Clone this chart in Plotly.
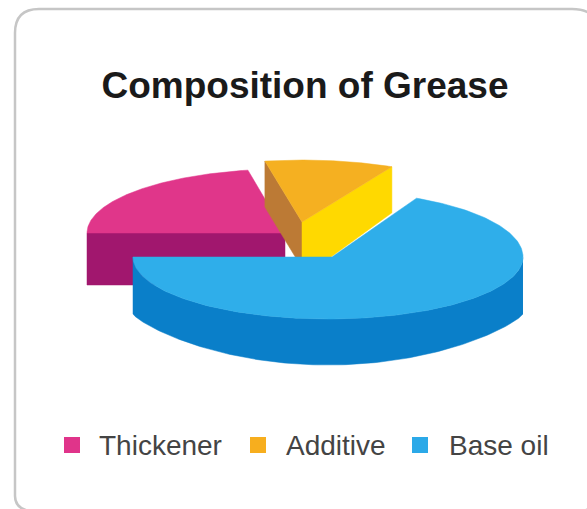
import numpy as np
import plotly.graph_objects as go

# Data
categories = ["Thickener", "Additive", "Base oil"]
values = [22, 10.5, 67.5]
title_text = "Composition of Grease"

# Styles
top_colors = ["#E0368A", "#F5B021", "#2FAEEA"]
side_colors = ["#A1176E", "#FFD900", "#0A7FC9"]
cut_color = "#BC7A35"
legend_colors = ["#E0348A", "#F7AE1E", "#2BA9E8"]

# Pie projection (canvas pixels)
START = 180.0
centers = [(285, 233), (302, 222), (328, 257)]
depths = [52, 46, 46]
radii = [(198, 64), (198, 62), (195, 62)]
BASE_UPPER_RY = 66
BASE_RIM_END = 57
BASE_RIM_RY = 51
BASE_RIM_POWER = 1.6
APEX_X_BASE = 332
YELLOW_APEX_EXTRA = 10

fig = go.Figure()


def poly(xs, ys, color):
    fig.add_trace(go.Scatter(x=xs, y=ys, mode="lines", fill="toself", fillcolor=color,
                             line=dict(color=color, width=0.5), hoverinfo="skip", showlegend=False))


ends = START - np.cumsum(values) / np.sum(values) * 360.0
starts = np.concatenate([[START], ends[:-1]])

for i, name in enumerate(categories):
    cx, cy = centers[i]
    rx, ry = radii[i]
    d = depths[i]
    t = np.radians(np.linspace(starts[i], ends[i], 200))
    ax = cx + rx * np.cos(t)
    if name == "Base oil":
        ay = cy - np.where(np.sin(t) > 0, BASE_UPPER_RY, ry) * np.sin(t)
    else:
        ay = cy - ry * np.sin(t)
    if name == "Thickener":
        # flat cut face towards the viewer
        poly([ax[0], cx, cx, ax[0], ax[0]], [ay[0], cy, cy + d, ay[0] + d, ay[0]], side_colors[i])
    elif name == "Additive":
        # two cut faces
        poly([ax[0], cx, cx, ax[0], ax[0]], [ay[0], cy, cy + d, ay[0] + d, ay[0]], cut_color)
        poly([ax[-1], cx, cx, ax[-1], ax[-1]],
             [ay[-1], cy, cy + d + YELLOW_APEX_EXTRA, ay[-1] + d, ay[-1]], side_colors[i])
    else:
        # outer rim
        mask = np.sin(t) <= 0.001
        arc_x, arc_y, arc_t = ax[mask], ay[mask], t[mask]
        rim_y = cy + BASE_RIM_END + BASE_RIM_RY * np.abs(np.sin(arc_t)) ** BASE_RIM_POWER
        poly(np.concatenate([arc_x, arc_x[::-1]]), np.concatenate([arc_y, rim_y[::-1]]), side_colors[i])
    apex_x = APEX_X_BASE if name == "Base oil" else cx
    poly(np.concatenate([[apex_x], ax, [apex_x]]), np.concatenate([[cy], ay, [cy]]), top_colors[i])

# Legend
legend_x = [72, 258, 420]
legend_y = 445
fig.add_trace(go.Scatter(x=legend_x, y=[legend_y] * 3, mode="markers", showlegend=False, hoverinfo="skip",
                         marker=dict(symbol="square", size=16, color=legend_colors)))
label_x = [99, 286, 449]
for x, name in zip(label_x, categories):
    fig.add_annotation(x=x, y=legend_y, text=name, showarrow=False, xanchor="left", yanchor="middle",
                       xshift=-2, font=dict(family="Liberation Sans", size=28, color="#444444"))

fig.update_layout(
    width=587, height=509, margin=dict(l=0, r=0, t=0, b=0),
    paper_bgcolor="white", plot_bgcolor="white", showlegend=False,
    title=dict(text=f"<b>{title_text}</b>", x=305 / 587, xanchor="center", y=1 - 85 / 509, yanchor="middle",
               font=dict(family="Liberation Sans", size=37, color="#1a1a1a")),
    xaxis=dict(range=[0, 587], visible=False, fixedrange=True),
    yaxis=dict(range=[509, 0], visible=False, fixedrange=True),
    shapes=[dict(type="path", layer="below",
                 path="M 15 33 Q 15 9 39 9 L 572 9 Q 597 9 597 30 L 597 490 Q 597 512 575 512 L 40 512 Q 15 512 15 496 Z",
                 line=dict(color="#C6C6C6", width=2.5), fillcolor="white")],
)
fig.write_html("out.html", config=dict(displayModeBar=False),
               post_script="document.body.style.margin='0';document.body.style.overflow='hidden';")
